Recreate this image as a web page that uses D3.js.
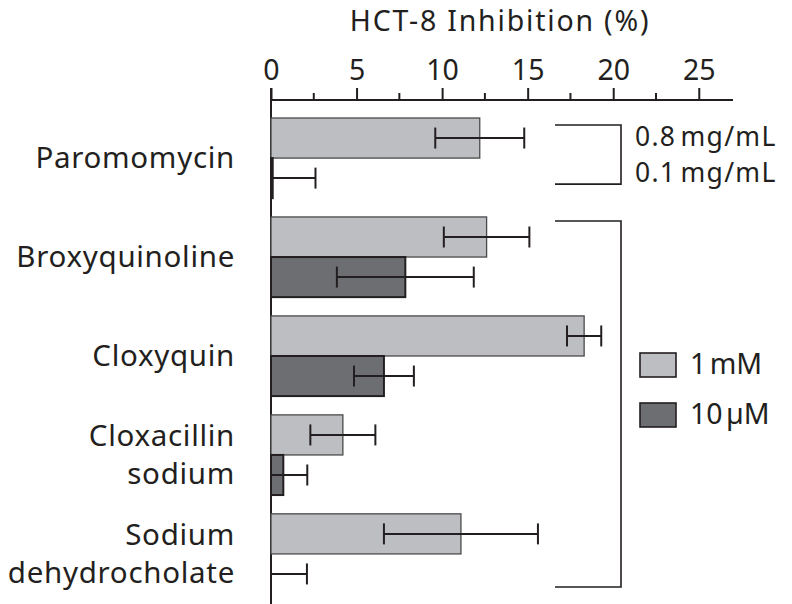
<!DOCTYPE html>
<html>
<head>
<meta charset="utf-8">
<script src="https://cdn.jsdelivr.net/npm/d3@7"></script>
<style>
  html, body { margin: 0; padding: 0; background: #fff; }
  svg { display: block; }
  text { font-family: "Noto Sans", "Open Sans", sans-serif; fill: #231f20; }
</style>
</head>
<body>
<script>
// ---- data ----
const categories = ["Paromomycin", "Broxyquinoline", "Cloxyquin", "Cloxacillin sodium", "Sodium dehydrocholate"];
const categoryLines = [["Paromomycin"], ["Broxyquinoline"], ["Cloxyquin"], ["Cloxacillin", "sodium"], ["Sodium", "dehydrocholate"]];
const seriesNames = ["1 mM", "10 µM"];
const highValues = [12.2, 12.6, 18.3, 4.2, 11.1];
const highErrors = [2.6, 2.5, 1.0, 1.9, 4.5];
const lowValues = [0.1, 7.85, 6.6, 0.72, 0];
const lowErrors = [2.5, 4.0, 1.75, 1.4, 2.1];
const majorTicks = [0, 5, 10, 15, 20, 25];
const minorTicks = [2.5, 7.5, 12.5, 17.5, 22.5];
const axisTitle = "HCT-8 Inhibition (%)";
const bracketLabels = ["0.8 mg/mL", "0.1 mg/mL"];

const W = 792, H = 604;
const colors = ["#bdbec2", "#6d6e72"];
const strokes = ["#4a4a4c", "#231f20"];
const ink = "#231f20";

const svg = d3.select("body").append("svg").attr("width", W).attr("height", H);

const x = d3.scaleLinear().domain([0, 27]).range([271, 733]);
const y = d3.scaleBand().domain(categories).range([118, 594]).paddingInner(0.19).paddingOuter(0);
const ySub = d3.scaleBand().domain(seriesNames).range([0, y.bandwidth()]).padding(0);

const rows = categories.map((c, i) => ({
  cat: c, i,
  items: [
    { s: seriesNames[0], v: highValues[i], e: highErrors[i], k: 0 },
    { s: seriesNames[1], v: lowValues[i], e: lowErrors[i], k: 1 }
  ]
}));

// ---- axis ----
const axisY = 100;
const axisG = svg.append("g").attr("transform", `translate(0,${axisY})`);
axisG.call(d3.axisTop(x).tickValues(majorTicks).tickSize(12).tickPadding(8).tickFormat(d3.format("d")));
axisG.select(".domain").remove();
axisG.selectAll(".tick line").attr("stroke", ink).attr("stroke-width", 2);
axisG.selectAll(".tick text").attr("font-size", 28.5).attr("font-family", "Noto Sans").attr("fill", ink);
axisG.selectAll(".minor").data(minorTicks).enter().append("line")
  .attr("x1", d => x(d)).attr("x2", d => x(d)).attr("y1", 0).attr("y2", -7)
  .attr("stroke", ink).attr("stroke-width", 2);
axisG.append("line").attr("x1", x(0)).attr("x2", x.range()[1]).attr("y1", 0).attr("y2", 0)
  .attr("stroke", ink).attr("stroke-width", 2);
// vertical zero line
svg.append("line").attr("x1", x(0)).attr("x2", x(0)).attr("y1", 88).attr("y2", 604)
  .attr("stroke", ink).attr("stroke-width", 2);

svg.append("text").attr("x", 500).attr("y", 31).attr("text-anchor", "middle")
  .attr("font-size", 28.5).attr("letter-spacing", 1.8).text(axisTitle);

// ---- bars ----
const g = svg.selectAll(".grp").data(rows).enter().append("g")
  .attr("transform", d => `translate(0,${y(d.cat)})`);

const item = g.selectAll(".it").data(d => d.items).enter().append("g");

item.filter(d => d.v > 0).append("rect")
  .attr("x", x(0))
  .attr("y", d => ySub(d.s))
  .attr("width", d => x(d.v) - x(0))
  .attr("height", ySub.bandwidth())
  .attr("fill", d => colors[d.k])
  .attr("stroke", d => strokes[d.k])
  .attr("stroke-width", d => d.k === 0 ? 1.3 : 2);

// error bars
const capH = 21;
item.append("line")
  .attr("x1", d => x(Math.max(0, d.v - d.e)))
  .attr("x2", d => x(d.v + d.e))
  .attr("y1", d => ySub(d.s) + ySub.bandwidth() / 2)
  .attr("y2", d => ySub(d.s) + ySub.bandwidth() / 2)
  .attr("stroke", ink).attr("stroke-width", 2);
item.append("line")
  .attr("x1", d => x(d.v + d.e)).attr("x2", d => x(d.v + d.e))
  .attr("y1", d => ySub(d.s) + ySub.bandwidth() / 2 - capH / 2)
  .attr("y2", d => ySub(d.s) + ySub.bandwidth() / 2 + capH / 2)
  .attr("stroke", ink).attr("stroke-width", 2);
item.filter(d => d.v - d.e > 0).append("line")
  .attr("x1", d => x(d.v - d.e)).attr("x2", d => x(d.v - d.e))
  .attr("y1", d => ySub(d.s) + ySub.bandwidth() / 2 - capH / 2)
  .attr("y2", d => ySub(d.s) + ySub.bandwidth() / 2 + capH / 2)
  .attr("stroke", ink).attr("stroke-width", 2);

// ---- category labels ----
const lineGap = 38.5;
g.append("text")
  .attr("text-anchor", "end")
  .attr("font-size", 29.5)
  .attr("letter-spacing", 0.7)
  .each(function(d) {
    const lines = categoryLines[d.i];
    const cy = y.bandwidth() / 2;
    const first = cy - (lines.length - 1) * lineGap / 2 + 10;
    d3.select(this).selectAll("tspan").data(lines).enter().append("tspan")
      .attr("x", 235).attr("y", (l, j) => first + j * lineGap).text(l => l);
  });

// ---- brackets ----
const bx1 = 555, bx2 = 621;
const pm = categories[0];
const b1Top = y(pm) + ySub(seriesNames[0]) + 7;
const b1Bot = y(pm) + ySub(seriesNames[1]) + ySub.bandwidth() / 2 + 6;
svg.append("path").attr("d", `M${bx1},${b1Top}H${bx2}V${b1Bot}H${bx1}`)
  .attr("fill", "none").attr("stroke", ink).attr("stroke-width", 1.6);
svg.selectAll(".blab").data(bracketLabels).enter().append("text")
  .attr("x", 635).attr("y", (d, i) => 146 + i * 36)
  .attr("font-size", 26.5).attr("letter-spacing", 1.3).attr("word-spacing", -4)
  .text(d => d);

const b2Top = y(categories[1]) + 4;
const b2Bot = y(categories[4]) + y.bandwidth() - 7;
svg.append("path").attr("d", `M${bx1},${b2Top}H${bx2}V${b2Bot}H${bx1}`)
  .attr("fill", "none").attr("stroke", ink).attr("stroke-width", 1.6);

// ---- legend ----
const leg = svg.selectAll(".leg").data(seriesNames).enter().append("g")
  .attr("transform", (d, i) => `translate(640,${353 + i * 50})`);
leg.append("rect").attr("width", 36).attr("height", 24)
  .attr("fill", (d, i) => colors[i]).attr("stroke", ink).attr("stroke-width", 1.6);
leg.append("text").attr("x", 50).attr("y", 21).attr("font-size", 28.5)
  .attr("word-spacing", -4).text(d => d);
</script>
</body>
</html>
